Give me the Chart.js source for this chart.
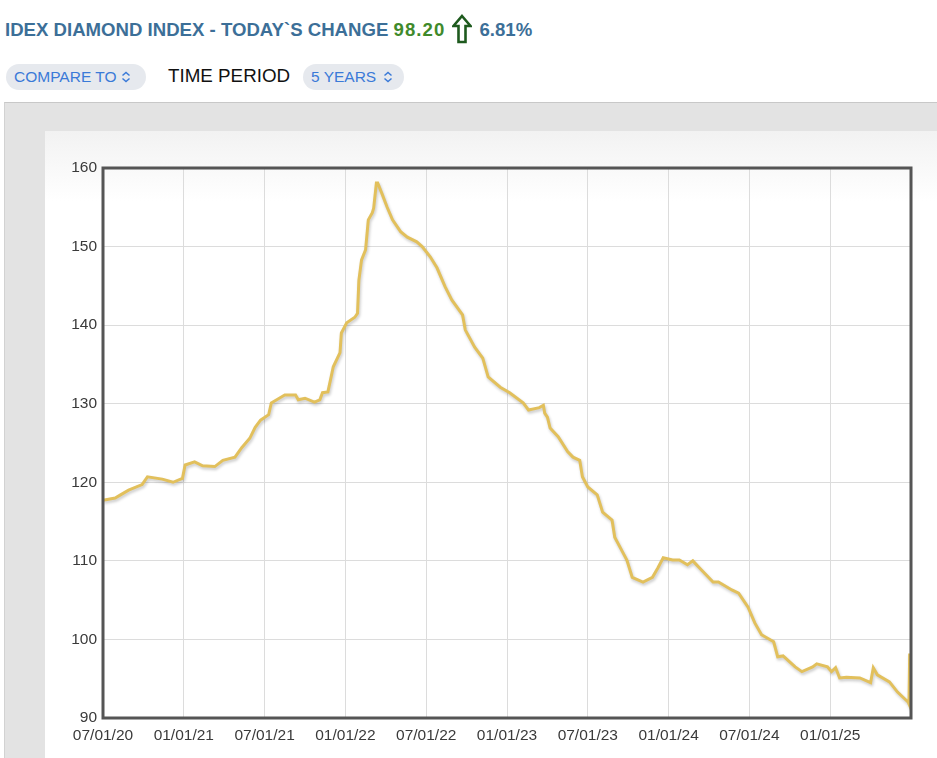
<!DOCTYPE html>
<html>
<head>
<meta charset="utf-8">
<script src="https://cdn.jsdelivr.net/npm/chart.js@4.4.1/dist/chart.umd.min.js"></script>
<style>
  body { margin: 0; width: 937px; height: 758px; overflow: hidden; position: relative; background: #fff;
         font-family: "Liberation Sans", Arial, Helvetica, sans-serif; }
  .abs { position: absolute; }
  #title { left: 5px; top: 14px; font-size: 18.6px; font-weight: bold; color: #3c6f98; white-space: nowrap; line-height: 24px; }
  #title .up { color: #3f8a2b; letter-spacing: 1.1px; }
  #title svg { vertical-align: -8px; margin: 0 7px 0 7px; }
  .pill { height: 26px; border-radius: 13px; background: #e6e9ee; color: #3a7ad8; font-size: 15.5px;
          line-height: 26px; padding-left: 8px; box-sizing: border-box; white-space: nowrap; }
  .pill svg { vertical-align: -1px; margin-left: 4px; }
  #period { left: 168px; top: 63px; font-size: 18.8px; color: #111; line-height: 26px; }
  #panel { left: 4px; top: 102px; right: 0; bottom: 0; background: #e3e3e3;
           border-top: 1px solid #c8c8c8; border-left: 1px solid #d2d2d2; }
  #card { left: 45px; top: 131px; right: 0; bottom: 0; background: linear-gradient(#f2f2f2, #ffffff 70px); }
  #wrap { left: 45px; top: 131px; width: 892px; height: 627px; }
</style>
</head>
<body>
<div id="title" class="abs">IDEX DIAMOND INDEX - TODAY`S CHANGE <span class="up">98.20</span><svg width="20" height="30" viewBox="0 0 20 30"><path d="M10 2 L18.5 12 L13.5 12 L13.5 28 L6.5 28 L6.5 12 L1.5 12 Z" fill="#fff" stroke="#1e5a1e" stroke-width="2.6" stroke-linejoin="miter"/></svg><span>6.81%</span></div>

<div class="pill abs" style="left:6px;top:64px;width:140px;">COMPARE TO<svg width="10" height="12" viewBox="0 0 10 12"><path d="M1.5 4.5 L5 1.5 L8.5 4.5 M1.5 7.5 L5 10.5 L8.5 7.5" fill="none" stroke="#3a7ad8" stroke-width="1.5"/></svg></div>
<div id="period" class="abs">TIME PERIOD</div>
<div class="pill abs" style="left:303px;top:64px;width:101px;">5 YEARS<svg width="10" height="12" viewBox="0 0 10 12" style="margin-left:7px"><path d="M1.5 4.5 L5 1.5 L8.5 4.5 M1.5 7.5 L5 10.5 L8.5 7.5" fill="none" stroke="#3a7ad8" stroke-width="1.5"/></svg></div>

<div id="panel" class="abs"></div>
<div id="card" class="abs"></div>
<div id="wrap" class="abs"><canvas id="idexChart"></canvas></div>

<script>
// months counted from 07/01/20
const months = [0.0, 0.9, 1.3, 1.9, 2.9, 3.3, 4.4, 5.2, 5.9, 6.1, 6.8, 7.4, 8.3, 8.9, 9.8, 10.3, 10.9, 11.3, 11.7, 12.3,
  12.5, 12.9, 13.5, 14.3, 14.5, 15.0, 15.7, 16.1, 16.3, 16.7, 17.0, 17.1, 17.6, 17.7, 18.1, 18.7, 18.9, 19.0, 19.2, 19.5,
  19.7, 20.0, 20.1, 20.3, 20.4, 20.7, 21.1, 21.5, 22.1, 22.6, 23.3, 23.7, 24.3, 24.8, 25.4, 25.9, 26.7, 26.9, 27.6, 28.2,
  28.6, 29.5, 30.2, 31.2, 31.6, 32.4, 32.7, 32.8, 33.0, 33.2, 33.8, 34.5, 34.9, 35.4, 35.6, 36.0, 36.7, 37.1, 37.8, 38.0,
  38.5, 38.9, 39.3, 40.1, 40.8, 41.2, 41.6, 42.3, 42.8, 43.4, 43.8, 44.3, 45.3, 45.7, 46.7, 47.2, 47.9, 48.4, 48.9, 49.8,
  50.1, 50.5, 51.4, 51.9, 52.7, 53.0, 53.8, 54.1, 54.4, 54.7, 55.2, 56.2, 57.0, 57.2, 57.5, 58.4, 59.0, 59.8, 59.85, 59.9];
const indexValues = [117.7, 118.0, 118.4, 119.0, 119.7, 120.7, 120.4, 120.0, 120.5, 122.2, 122.6, 122.1, 122.0, 122.8, 123.2, 124.4, 125.6, 127.0, 127.9, 128.6,
  130.1, 130.5, 131.1, 131.1, 130.5, 130.7, 130.2, 130.5, 131.4, 131.5, 133.9, 134.7, 136.5, 139.0, 140.3, 141.0, 141.5, 145.7, 148.3, 149.6,
  153.4, 154.3, 154.9, 158.1, 158.1, 156.8, 155.0, 153.4, 151.9, 151.2, 150.6, 150.0, 148.7, 147.3, 144.9, 143.2, 141.3, 139.4, 137.2, 135.8,
  133.4, 132.1, 131.4, 130.1, 129.2, 129.5, 129.8, 128.8, 128.3, 126.9, 125.8, 123.9, 123.2, 122.8, 120.7, 119.4, 118.4, 116.2, 115.2, 113.0,
  111.4, 110.1, 107.9, 107.3, 107.9, 109.1, 110.4, 110.1, 110.1, 109.5, 110.0, 109.1, 107.3, 107.3, 106.3, 105.9, 104.1, 102.1, 100.6, 99.7,
  97.8, 97.9, 96.5, 95.9, 96.5, 96.9, 96.5, 95.9, 96.4, 95.1, 95.2, 95.1, 94.5, 96.4, 95.5, 94.6, 93.3, 92.0, 91.8, 98.2];
const dateLabels = ['07/01/20', '01/01/21', '07/01/21', '01/01/22', '07/01/22', '01/01/23',
  '07/01/23', '01/01/24', '07/01/24', '01/01/25', ''];

const points = months.map((m, i) => ({ x: m, y: indexValues[i] }));

// frame round the plot area
const frameBox = {
  id: 'frameBox',
  beforeDatasetsDraw(chart) {
    const ctx = chart.ctx;
    ctx.save();
    ctx.shadowColor = 'rgba(0,0,0,0.22)';
    ctx.shadowBlur = 3;
    ctx.shadowOffsetX = 1;
    ctx.shadowOffsetY = 2;
  },
  afterDatasetsDraw(chart) {
    const ctx = chart.ctx;
    ctx.restore();
    const a = chart.chartArea;
    ctx.save();
    ctx.strokeStyle = '#555';
    ctx.lineWidth = 3;
    ctx.strokeRect(a.left, a.top, a.right - a.left, a.bottom - a.top);
    ctx.restore();
  }
};

new Chart(document.getElementById('idexChart'), {
  type: 'line',
  data: {
    datasets: [{
      data: points,
      borderColor: '#e2c05c',
      borderWidth: 3,
      pointRadius: 0,
      tension: 0,
      fill: false
    }]
  },
  options: {
    responsive: true,
    maintainAspectRatio: false,
    animation: false,
    layout: { padding: { top: 37, right: 26, left: 0, bottom: 0 } },
    plugins: { legend: { display: false }, tooltip: { enabled: false } },
    scales: {
      x: {
        type: 'linear',
        min: 0,
        max: 60,
        afterFit(scale) { scale.height = 40; },
        border: { display: false },
        grid: { color: '#dcdcdc', lineWidth: 1, drawTicks: false },
        ticks: {
          stepSize: 6,
          autoSkip: false,
          maxRotation: 0,
          padding: 8,
          color: '#3a3a3a',
          font: { family: '"Liberation Sans", Arial, sans-serif', size: 15.5 },
          callback: (v) => dateLabels[Math.round(v / 6)]
        }
      },
      y: {
        min: 90,
        max: 160,
        afterFit(scale) { scale.width = 58; },
        border: { display: false },
        grid: { color: '#dcdcdc', lineWidth: 1, drawTicks: false },
        ticks: {
          stepSize: 10,
          padding: 6,
          color: '#3a3a3a',
          font: { family: '"Liberation Sans", Arial, sans-serif', size: 15.5 }
        }
      }
    }
  },
  plugins: [frameBox]
});
</script>
</body>
</html>
